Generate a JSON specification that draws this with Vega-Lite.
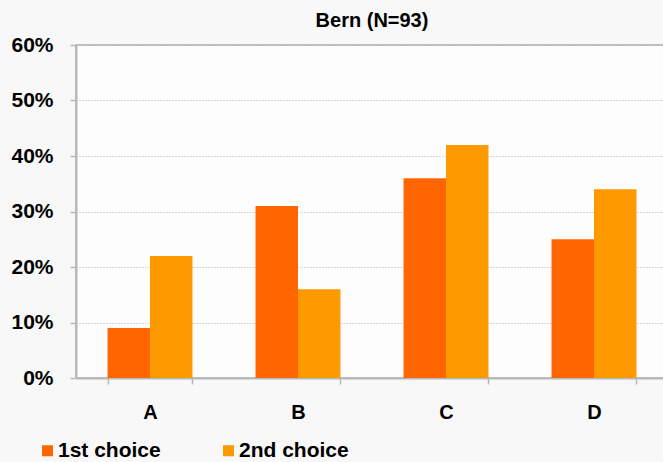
{
  "$schema": "https://vega.github.io/schema/vega-lite/v6.json",
  "width": 592,
  "height": 333,
  "autosize": "none",
  "padding": {"left": 76, "top": 45, "right": 0, "bottom": 84},
  "background": "#f8f8f8",
  "title": {"text": "Bern (N=93)", "font": "Liberation Sans", "fontSize": 20, "fontWeight": "bold", "color": "#000000", "offset": 3, "anchor": "middle"},
  "config": {
    "view": {"fill": "#fdfdfd", "stroke": "#c0c0c0", "strokeWidth": 2},
    "font": "Liberation Sans"
  },
  "data": {
    "values": [
      {"cat": "A", "choice": "1st choice", "pct": 0.09},
      {"cat": "A", "choice": "2nd choice", "pct": 0.22},
      {"cat": "B", "choice": "1st choice", "pct": 0.31},
      {"cat": "B", "choice": "2nd choice", "pct": 0.16},
      {"cat": "C", "choice": "1st choice", "pct": 0.36},
      {"cat": "C", "choice": "2nd choice", "pct": 0.42},
      {"cat": "D", "choice": "1st choice", "pct": 0.25},
      {"cat": "D", "choice": "2nd choice", "pct": 0.34}
    ]
  },
  "mark": {"type": "bar"},
  "encoding": {
    "x": {
      "field": "cat", "type": "nominal",
      "scale": {"paddingInner": 0.426, "paddingOuter": 0.213},
      "axis": {
        "title": null, "labelAngle": 0, "labelFont": "Liberation Sans", "labelFontSize": 20, "labelFontWeight": "bold", "labelColor": "#000000",
        "labelPadding": 18, "tickBand": "extent", "tickSize": 6, "tickColor": "#b8b8b8", "tickWidth": 1.5,
        "domainColor": "#b8b8b8", "domainWidth": 2, "grid": false
      }
    },
    "xOffset": {"field": "choice", "type": "nominal", "scale": {"paddingInner": 0, "paddingOuter": 0}},
    "y": {
      "field": "pct", "type": "quantitative",
      "scale": {"domain": [0, 0.6], "nice": false},
      "axis": {
        "title": null, "format": ".0%", "values": [0, 0.1, 0.2, 0.3, 0.4, 0.5, 0.6],
        "labelFont": "Liberation Sans", "labelFontSize": 21, "labelFontWeight": "bold", "labelColor": "#000000", "labelPadding": 17,
        "tickSize": 6, "tickColor": "#b8b8b8", "tickWidth": 1.5,
        "domainColor": "#b8b8b8", "domainWidth": 2,
        "grid": true, "gridColor": "#b4b4b4", "gridDash": [1, 2], "gridWidth": 1
      }
    },
    "color": {
      "field": "choice", "type": "nominal",
      "scale": {"domain": ["1st choice", "2nd choice"], "range": ["#ff6600", "#ff9900"]},
      "legend": {
        "title": null, "orient": "none", "legendX": -39, "legendY": 395, "direction": "horizontal", "columns": 2, "columnPadding": 57,
        "symbolType": "square", "symbolSize": 121, "symbolStrokeWidth": 0, "symbolOpacity": 1,
        "labelFont": "Liberation Sans", "labelFontSize": 21, "labelFontWeight": "bold", "labelColor": "#000000", "labelOffset": 0
      }
    }
  }
}
